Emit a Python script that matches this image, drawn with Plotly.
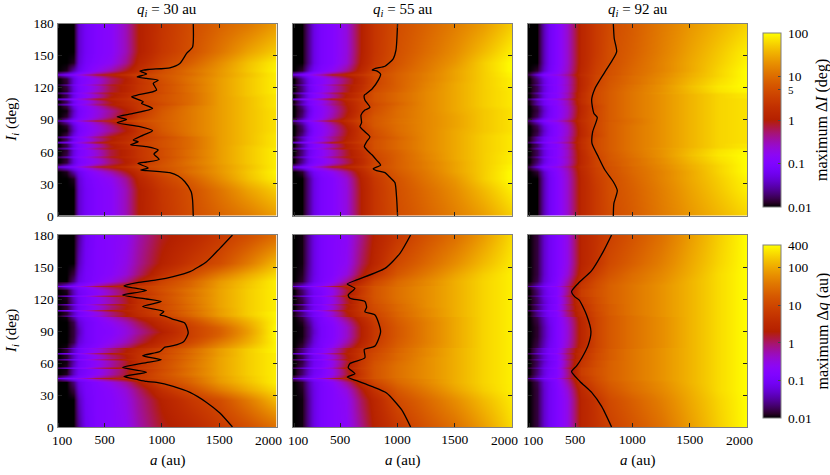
import numpy as np
import plotly.graph_objects as go

# semi-major axis samples (au) and inclination samples (deg, lower half; mirrored about 89.25)
a_samples = [100,170,230,270,330,430,550,680,800,1000,1250,1500,1750,2000]
i_samples = [0,25,35,42,45,46,47,50,54.2,55.5,56.8,62,63.3,64.6,67.7,69,70.3,72.7,74,75.3,80,85,88,89.25]

# Values: position on the logarithmic colour scale, in percent
dI_q30 = [
[0,0,0,15,21,25,28,37,50,59,67,73,78,85],
[0,0,0,15,21,25,28,37,50,60,68,77,86,93],
[0,0,2,16,22,26,30,40,53,63,72,82,91,98],
[0,2,12,19,24,30,38,48,57,67,76,84,92,99],
[10,16,21,26,31,40,48,54,61,68,75,84,91,98],
[21,24,28,33,40,48,53,58,63,69,75,84,91,98],
[8,15,21,26,31,40,48,54,62,69,76,84,91,98],
[0,4,17,23,26,32,43,50,59,68,77,85,92,98],
[0,3,17,23,27,33,44,51,58,67,76,85,92,98],
[6,15,22,27,32,41,49,54,59,66,75,85,92,98],
[0,5,18,24,27,34,46,52,59,67,76,85,92,98],
[0,3,17,23,27,35,46,52,59,67,76,85,92,98],
[8,16,23,28,33,43,50,55,60,66,75,85,92,98],
[0,5,18,24,28,36,48,54,61,68,75,85,92,97],
[0,6,19,25,29,38,50,56,62,68,75,85,91,97],
[19,24,28,33,40,49,54,58,63,68,75,85,91,97],
[0,7,20,25,29,39,50,56,61,68,75,85,91,97],
[0,6,19,25,29,38,48,55,60,67,75,85,91,97],
[10,17,24,28,33,43,50,55,60,66,75,85,91,97],
[0,5,18,24,28,36,47,54,60,68,77,85,91,97],
[0,1,14,22,26,32,40,49,59,70,78,85,91,96],
[0,3,16,23,27,33,42,52,62,71,78,85,91,96],
[3,12,21,26,30,38,48,57,65,71,78,85,91,96],
[20,24,29,34,42,50,56,64,68,72,78,85,91,96],
]
dI_q55 = [
[0,0,10,18,23,26,33,50,59,67,73,79,85,93],
[0,0,10,18,23,26,33,50,59,68,75,82,90,98],
[0,0,10,18,23,26,34,51,60,69,77,84,93,100],
[0,3,15,21,25,30,40,54,63,71,78,86,93,100],
[12,19,25,29,33,42,50,57,65,72,79,86,93,99],
[20,25,30,34,40,50,55,60,66,72,79,86,93,99],
[9,17,24,28,33,42,50,57,65,72,79,86,93,99],
[0,10,20,24,27,34,44,55,64,72,79,86,93,98],
[0,8,19,23,27,34,45,55,64,72,80,87,93,98],
[6,16,23,27,32,42,50,57,65,72,80,87,93,98],
[0,9,20,24,28,36,47,56,65,72,80,87,93,98],
[0,8,19,23,28,36,47,58,67,73,81,87,93,97],
[8,18,25,29,34,44,52,60,68,74,81,87,93,97],
[0,10,21,25,29,38,50,59,68,74,81,87,93,97],
[0,11,21,25,29,39,51,60,68,74,81,87,93,97],
[18,25,30,34,41,51,56,62,68,74,81,87,93,97],
[1,12,22,26,30,40,52,61,68,74,81,87,93,97],
[1,12,22,26,30,40,50,60,67,73,81,87,93,97],
[4,15,23,27,32,41,50,60,66,73,81,87,93,97],
[0,9,20,25,29,38,49,60,67,74,81,87,93,97],
[0,6,18,24,28,36,48,60,68,75,81,87,92,96],
[0,8,20,25,29,38,50,62,70,75,81,86,92,96],
[5,14,23,27,32,43,54,64,70,76,81,86,92,96],
[19,25,30,35,43,51,57,65,70,75,81,86,92,96],
]
dI_q92 = [
[0,0,13,20,25,35,53,61,66,71,78,84,89,94],
[0,0,13,20,25,35,53,61,67,72,79,86,92,98],
[0,0,13,20,25,35,53,62,67,73,80,87,93,99],
[0,3,15,21,26,36,54,63,68,74,80,87,94,100],
[3,12,22,25,28,38,55,63,68,74,81,88,94,100],
[6,19,26,29,33,41,56,64,68,74,81,88,94,100],
[2,12,22,25,28,38,55,64,69,75,81,88,94,100],
[0,8,18,23,26,36,54,64,69,75,82,89,95,100],
[0,6,17,22,26,36,54,64,70,75,82,90,96,100],
[2,12,21,25,28,37,54,64,70,76,83,90,96,100],
[0,6,17,22,26,36,54,65,70,76,83,91,97,100],
[0,6,17,22,26,36,55,66,71,77,83,90,96,99],
[2,13,21,25,28,38,56,66,71,77,84,90,95,98],
[0,7,18,23,26,37,56,66,71,77,83,89,94,97],
[0,7,18,23,26,37,56,66,71,77,83,89,94,97],
[7,19,25,29,33,42,57,66,71,77,83,89,94,96],
[1,11,20,24,27,37,56,66,71,77,83,89,94,96],
[1,11,20,24,27,37,56,66,71,77,83,89,94,96],
[1,12,20,24,28,37,55,65,71,77,83,89,94,96],
[0,6,17,22,26,36,54,64,71,77,83,89,94,96],
[0,4,15,21,26,35,54,65,71,77,83,89,94,96],
[0,6,17,22,26,36,55,65,71,77,83,89,94,96],
[4,14,22,26,29,39,56,65,71,76,83,89,94,96],
[10,20,26,30,34,44,57,65,70,76,83,89,94,96],
]
dq_q30 = [
[0,0,0,10,20,25,27,30,38,48,54,61,68,76],
[0,0,0,13,21,25,27,32,40,51,60,67,78,90],
[0,0,4,16,22,25,28,34,43,57,67,78,87,95],
[0,0,8,18,22,26,32,40,50,64,73,84,91,98],
[8,14,20,24,27,36,44,50,58,66,74,85,92,98],
[20,23,27,31,37,46,50,56,61,67,74,85,92,98],
[7,14,20,24,27,36,44,50,60,67,75,85,92,98],
[0,2,14,21,24,29,38,47,59,68,77,86,93,98],
[0,1,13,20,23,28,37,46,57,66,76,86,93,98],
[7,14,21,25,30,40,48,53,60,67,76,86,93,98],
[0,2,14,21,24,30,39,48,58,67,77,86,93,98],
[0,1,12,20,24,29,38,47,57,66,76,86,93,98],
[6,13,20,25,29,38,46,52,58,65,75,86,93,98],
[0,3,14,21,24,31,41,49,58,66,76,86,93,98],
[0,3,14,21,25,32,43,50,58,66,75,85,93,98],
[14,20,24,28,34,43,50,53,57,64,74,85,93,98],
[0,3,14,21,25,32,42,50,57,65,75,85,93,99],
[0,3,14,21,25,31,41,49,56,64,74,85,93,99],
[2,9,17,23,27,33,42,50,55,63,73,84,92,99],
[0,1,11,19,23,27,35,43,51,60,71,82,91,99],
[0,0,5,16,21,25,30,37,45,56,66,78,88,99],
[0,0,4,14,21,25,28,34,42,53,63,73,86,100],
[0,0,4,13,21,25,27,33,40,51,63,72,85,100],
[0,0,4,13,21,25,27,33,40,50,63,72,85,100],
]
dq_q55 = [
[0,1,11,18,23,26,29,41,51,60,69,76,85,95],
[0,1,11,18,23,26,30,44,53,66,74,82,90,97],
[0,2,12,18,23,26,33,48,58,70,78,86,93,98],
[0,3,13,19,23,28,40,55,65,74,81,88,94,98],
[6,13,19,23,26,35,48,59,67,75,81,88,94,98],
[17,23,27,30,36,46,54,62,69,75,82,88,94,98],
[5,13,19,23,26,35,50,61,69,76,82,88,94,98],
[0,7,16,21,24,31,46,60,69,76,82,88,94,98],
[0,6,15,20,23,31,47,61,69,76,82,88,94,98],
[6,14,21,25,29,37,52,62,69,76,82,88,94,98],
[0,6,15,21,24,32,48,61,69,76,82,88,94,98],
[0,4,14,20,23,31,46,60,68,75,82,88,94,98],
[5,13,20,24,28,37,50,60,67,74,82,88,94,98],
[0,5,15,20,24,33,48,60,67,74,82,88,94,98],
[0,6,15,21,24,34,49,60,66,74,81,88,94,98],
[13,20,25,28,33,42,51,60,66,74,81,88,94,98],
[1,8,17,21,25,34,49,59,65,73,81,88,94,98],
[1,8,16,21,25,34,48,59,64,73,81,88,94,98],
[2,10,17,22,26,35,48,58,64,73,81,88,94,98],
[0,4,13,19,23,30,43,55,63,72,80,87,94,98],
[0,2,10,17,23,27,38,52,61,71,79,87,94,98],
[0,1,8,16,22,26,35,50,60,70,79,87,94,98],
[0,1,8,15,22,26,35,50,60,70,79,87,94,98],
[0,1,8,15,22,26,35,50,60,70,79,87,94,98],
]
dq_q92 = [
[0,4,15,20,24,32,52,58,63,69,76,85,93,100],
[0,4,15,20,24,32,52,59,66,72,79,87,94,100],
[0,4,15,20,24,34,54,63,69,75,81,88,95,100],
[0,5,16,20,25,38,58,66,71,76,82,89,95,100],
[3,11,19,23,26,40,60,67,72,77,83,89,95,100],
[10,18,24,27,31,44,60,67,72,77,83,89,95,100],
[2,11,19,23,26,41,60,67,72,77,83,89,95,100],
[0,8,17,22,25,40,62,68,72,77,83,89,95,100],
[0,7,17,21,25,41,62,68,72,77,83,89,95,100],
[3,11,19,23,27,44,62,68,72,77,83,89,95,100],
[0,7,17,21,25,41,60,67,72,77,83,89,95,100],
[0,6,15,20,24,40,59,67,72,77,83,89,95,100],
[2,11,18,22,26,43,58,66,71,77,83,89,95,100],
[0,7,16,21,25,41,57,66,71,77,83,89,95,100],
[0,7,16,21,25,41,57,66,71,77,83,89,95,100],
[6,15,21,25,29,44,57,66,71,77,83,89,95,100],
[0,9,17,22,25,41,56,65,71,77,83,89,95,100],
[0,9,17,22,25,41,56,65,71,77,83,89,95,100],
[1,10,18,22,26,41,55,65,70,76,83,89,95,100],
[0,5,14,20,24,36,54,64,70,76,82,89,95,100],
[0,4,13,19,24,35,53,64,70,76,82,89,95,100],
[0,3,12,18,24,34,53,64,70,76,82,89,95,100],
[0,3,12,18,24,34,53,64,70,76,82,89,95,100],
[0,3,12,18,24,34,53,64,70,76,82,89,95,100],
]

# Contour lines: semi-major axis (au), inclination (deg)
c_dI_q30_a = [1274,1268,1256,1201,1143,1070,983,867,815,881,791,867,977,931,968,867,727,794,750,838,919,809,611,692,611,750,919,823,838,736,785,954,925,968,867,785,867,809,881,1070,1157,1216,1268,1274]
c_dI_q30_i = [0,15,22.7,32,37.4,40.5,41.4,42.4,43,45,49.2,50.5,53,58,61.7,64.8,66.6,69.4,71,75.7,79.7,83.5,87.2,90.3,92.8,95.9,100.6,105.3,106.8,111.5,113,117.7,124,127,128.6,130,132.7,135.5,137,138.6,142.6,152,158,180]
c_dI_q55_a = [1002,993,979,935,892,819,790,854,819,781,741,712,732,761,717,674,688,683,717,761,717,712,732,781,834,854,819,781,810,892,964,988,1002]
c_dI_q55_i = [0,18,31.2,36.2,40.5,42.4,44.2,47.6,52.3,57,61,64.8,69.4,74,78.8,83.5,87.2,94.3,99,101.5,108.4,113,114.6,119,127,132.6,135.7,136.4,138,140,147,155,180]
c_dI_q92_a = [834,839,869,834,761,703,648,654,694,665,645,674,761,863,842,834]
c_dI_q92_i = [0,11.8,23.7,32,43,55.4,67.9,78.8,92.2,95.9,108.4,119.2,134.8,153.5,166,180]
c_dq_q30_a = [1616,1506,1390,1245,1099,954,867,794,669,867,658,838,995,832,983,1027,1099,1192,1230,1201,1099,1027,983,1018,832,995,867,658,867,669,785,954,1099,1245,1390,1506,1616]
c_dq_q30_i = [0,13.1,23,32.4,38,41.8,42.7,44.3,47.4,51.4,55.8,59.9,63,66.7,70.8,74.9,76.2,80.2,88,97.3,101,104,105.1,108.2,112.9,117.6,120,123.8,127.9,132.3,135.4,137.9,141,145.7,155,167.5,180]
c_dq_q55_a = [1116,1037,906,776,645,563,630,572,587,717,712,805,854,805,717,732,717,587,572,630,563,645,892,1023,1116]
c_dq_q55_i = [0,16.2,31.8,38,43.4,46.9,50,55.5,59.6,64.9,72.7,75.9,89.5,105,108,112.3,117.6,120.7,123.8,130,134,137.9,148.7,162.8,180]
c_dq_q92_a = [819,732,645,543,470,514,558,616,639,601,537,499,470,529,645,746,819]
c_dq_q92_i = [0,19.3,32.4,42.7,52,57.3,64.5,77,89.5,105,119,122,127,134.8,146.6,164.4,180]

panel_titles = ["<i>q<sub>i</sub></i> = 30 au", "<i>q<sub>i</sub></i> = 55 au", "<i>q<sub>i</sub></i> = 92 au"]
x_ticks = [500, 1000, 1500]
x_end_ticks = [100, 2000]
y_ticks = [0, 30, 60, 90, 120, 150, 180]

W, H = 830, 475
FONT = "Liberation Serif"
FS = 13.5
FL = 15

px_x = [(57.5, 276.5), (293, 512), (528, 747)]
px_y = [(23.5, 216), (235, 427)]
cb_x, cb_w = 763, 18
cb_y = [(33, 207), (245, 418)]

g = np.linspace(0, 1, 41)
colorscale = []
for v in g:
    r = np.sqrt(v); gg = v**3; b = max(np.sin(2*np.pi*v), 0)
    colorscale.append([float(v), f"rgb({int(round(r*255))},{int(round(gg*255))},{int(round(b*255))})"])

rows = [
    dict(tables=[dI_q30, dI_q55, dI_q92], lines=[(c_dI_q30_a, c_dI_q30_i), (c_dI_q55_a, c_dI_q55_i), (c_dI_q92_a, c_dI_q92_i)],
         top=2.0, tv=[0.01, 0.1, 1, 5, 10, 100], tt=["0.01", "0.1", "1", "<span style='font-size:11px'>5</span>", "10", "100"],
         title="maximum Δ<i>I</i> (deg)", mark=5),
    dict(tables=[dq_q30, dq_q55, dq_q92], lines=[(c_dq_q30_a, c_dq_q30_i), (c_dq_q55_a, c_dq_q55_i), (c_dq_q92_a, c_dq_q92_i)],
         top=float(np.log10(400)), tv=[0.01, 0.1, 1, 10, 100, 400], tt=["0.01", "0.1", "1", "10", "100", "400"],
         title="maximum Δ<i>q</i> (au)", mark=10),
]

i_full = i_samples + [178.5 - v for v in reversed(i_samples[:-1])] + [180]
NB = "\u00a0"

fig = go.Figure()
layout = {}
ann = []
shapes = []
n = 0
black = "black"
for r_i, row in enumerate(rows):
    span = row["top"] + 2
    for c_i in range(3):
        n += 1
        sfx = "" if n == 1 else str(n)
        tab = np.array(row["tables"][c_i], dtype=float)
        full = np.vstack([tab, tab[-2::-1], tab[:1]])
        z = -2 + span * full / 100
        tr = dict(x=a_samples, y=i_full, z=z, zmin=-2, zmax=row["top"], zsmooth="best",
                  colorscale=colorscale, xaxis="x"+sfx, yaxis="y"+sfx, hoverinfo="skip")
        if c_i == 2:
            y0, y1 = cb_y[r_i]
            tr["showscale"] = True
            tr["colorbar"] = dict(
                x=cb_x/W, xanchor="left", xpad=0, ypad=0,
                y=1-(y0+y1)/2/H, yanchor="middle",
                len=(y1-y0), lenmode="pixels", thickness=cb_w, thicknessmode="pixels",
                tickmode="array", tickvals=[float(np.log10(v)) for v in row["tv"]],
                ticktext=[NB + t for t in row["tt"]],
                ticks="inside", ticklen=3, tickcolor="#444", tickwidth=1,
                outlinecolor="#808080", outlinewidth=1,
                tickfont=dict(family=FONT, size=FS, color=black),
            )
            frac = (np.log10(row["mark"]) + 2) / span
            ym = y1 - frac*(y1-y0)
            shapes.append(dict(type="line", xref="paper", yref="paper", x0=cb_x/W, x1=(cb_x+cb_w)/W,
                               y0=1-ym/H, y1=1-ym/H, line=dict(color="#201000", width=1.5)))
            ann.append(dict(text=row["title"], xref="paper", yref="paper", x=822/W, y=1-(y0+y1)/2/H,
                            textangle=-90, showarrow=False, xanchor="center", yanchor="middle",
                            font=dict(family=FONT, size=FL+1, color=black)))
        else:
            tr["showscale"] = False
        fig.add_trace(go.Heatmap(**tr))
        la, li = row["lines"][c_i]
        fig.add_trace(go.Scatter(x=la, y=li, mode="lines", line=dict(color=black, width=1.3, shape="spline", smoothing=0.6),
                                 xaxis="x"+sfx, yaxis="y"+sfx, hoverinfo="skip", showlegend=False))
        xd = px_x[c_i]; yd = px_y[r_i]
        bottom = r_i == 1
        layout["xaxis"+sfx] = dict(
            domain=[xd[0]/W, xd[1]/W], range=[90, 2000], anchor="y"+sfx,
            tickmode="array", tickvals=x_ticks, ticktext=[str(v) for v in x_ticks],
            showticklabels=bottom,
            minor=dict(tickmode="array", tickvals=x_end_ticks, ticks="inside", ticklen=4, tickcolor="#222", showgrid=False),
            ticks="inside", ticklen=4, tickcolor="#222", mirror="allticks", showline=True,
            linecolor="#808080", linewidth=1, showgrid=False, zeroline=False,
            tickfont=dict(family=FONT, size=FS, color=black))
        layout["yaxis"+sfx] = dict(
            domain=[1-yd[1]/H, 1-yd[0]/H], range=[0, 180], anchor="x"+sfx,
            tickmode="array", tickvals=y_ticks, ticktext=[str(v) for v in y_ticks],
            showticklabels=c_i == 0,
            ticks="inside", ticklen=4, tickcolor="#222", mirror="allticks", showline=True,
            linecolor="#808080", linewidth=1, showgrid=False, zeroline=False,
            tickfont=dict(family=FONT, size=FS, color=black))
        if r_i == 0:
            ann.append(dict(text=panel_titles[c_i], xref="paper", yref="paper", x=sum(xd)/2/W, y=1-10/H,
                            showarrow=False, xanchor="center", yanchor="middle", font=dict(family=FONT, size=FL, color=black)))
        if bottom:
            ann.append(dict(text="<i>a</i> (au)", xref="paper", yref="paper", x=sum(xd)/2/W, y=1-460/H,
                            showarrow=False, xanchor="center", yanchor="middle", font=dict(family=FONT, size=FL, color=black)))
            ann.append(dict(text=str(x_end_ticks[0]), xref="x"+sfx, yref="paper", x=x_end_ticks[0], xshift=4, y=1-440/H,
                            showarrow=False, xanchor="center", yanchor="middle", font=dict(family=FONT, size=FS, color=black)))
            ann.append(dict(text=str(x_end_ticks[1]), xref="x"+sfx, yref="paper", x=x_end_ticks[1], xshift=-8, y=1-440/H,
                            showarrow=False, xanchor="center", yanchor="middle", font=dict(family=FONT, size=FS, color=black)))
        if c_i == 0:
            ann.append(dict(text="<i>I<sub>i</sub></i> (deg)", xref="paper", yref="paper", x=12/W, y=1-sum(yd)/2/H,
                            textangle=-90, showarrow=False, xanchor="center", yanchor="middle",
                            font=dict(family=FONT, size=FL, color=black)))

fig.update_layout(width=W, height=H, margin=dict(l=0, r=0, t=0, b=0, autoexpand=False),
                  paper_bgcolor="white", plot_bgcolor="white", showlegend=False,
                  annotations=ann, shapes=shapes, font=dict(family=FONT, size=FS), **layout)
fig.write_html("out.html", config={"displayModeBar": False}, post_script="document.body.style.margin='0';")
